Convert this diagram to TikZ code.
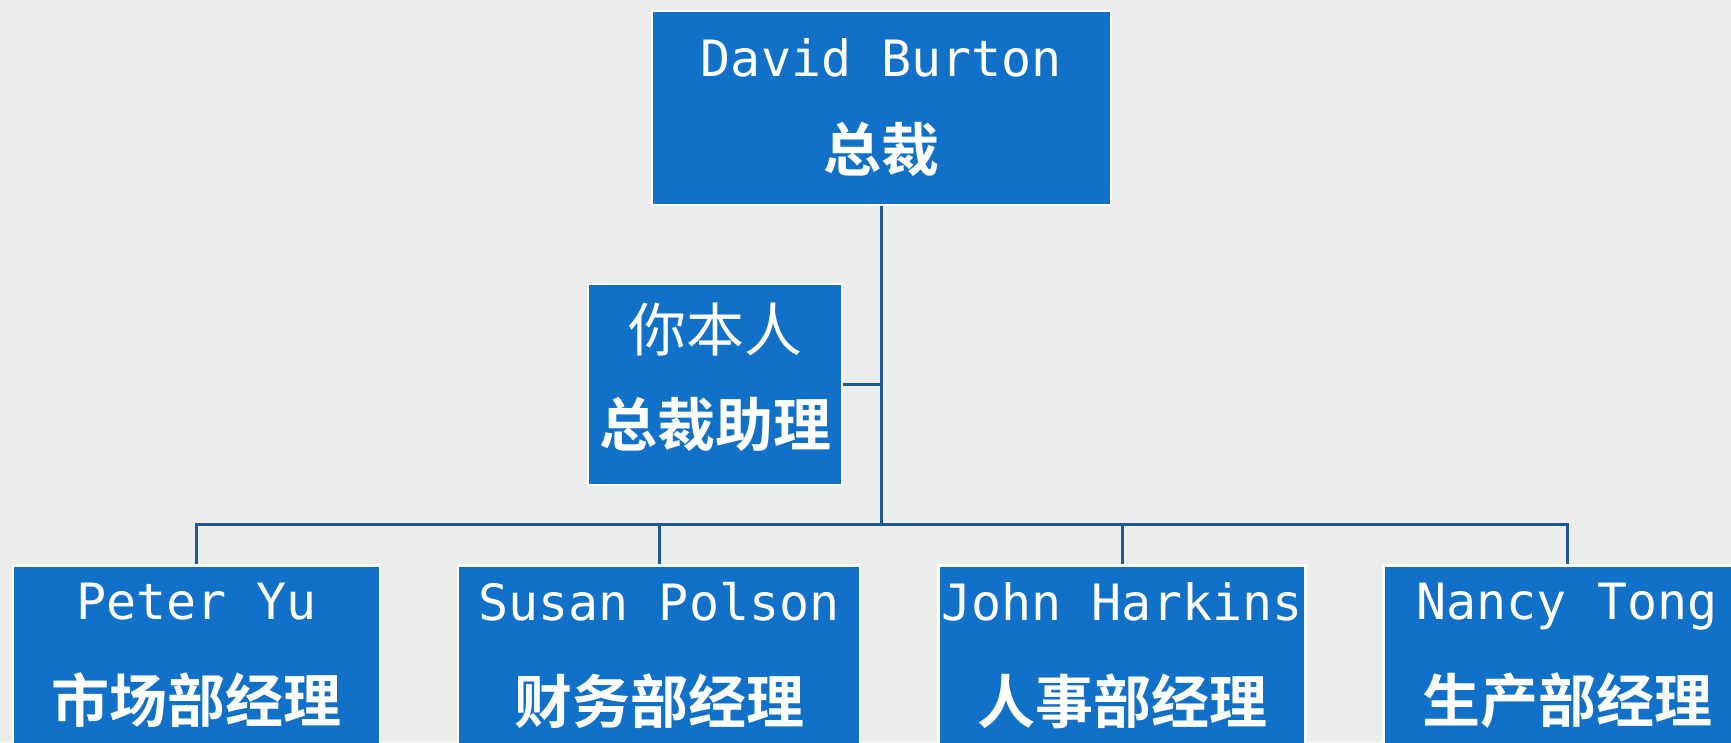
\documentclass[tikz,border=0pt]{standalone}
\usepackage{fontspec}
\usepackage{tikz}
\usetikzlibrary{positioning}
\usetikzlibrary{calc}
\newfontfamily\cjk[BoldFont={Noto Sans CJK SC Bold}]{Noto Sans CJK SC}
\newfontfamily\latn{DejaVu Sans Mono}
\definecolor{boxblue}{RGB}{17,112,199}
\definecolor{linkblue}{RGB}{31,88,150}
\definecolor{paper}{RGB}{236,236,236}
\newcommand{\nom}[1]{{\latn #1}}
\newcommand{\moi}[1]{{\cjk\fontsize{58}{95}\selectfont #1}}
\newcommand{\poste}[1]{{\cjk\bfseries\fontsize{58}{95}\selectfont #1}}
\tikzset{
  orgnode/.style = {rectangle, align=center, inner sep=0pt, fill=boxblue,
    draw=white, line width=2.5pt, text=white,
    font=\fontsize{50}{95}\selectfont},% case de base
  org_top/.style = {orgnode, minimum width=459pt, minimum height=194pt},% le patron
  org_asst/.style = {orgnode, minimum width=254pt, minimum height=201pt,
    text depth=20pt},% l'assistant
  org_dept/.style = {orgnode, anchor=north, minimum width=367pt,
    minimum height=200pt, font=\fontsize{50}{103}\selectfont,
    text depth=24pt},% chefs de service
  link/.style = {draw=linkblue, line width=3pt}
}

\begin{document}
\begin{tikzpicture}[x=1pt,y=-1pt]
\fill[paper] (0,0) rectangle (1731,742);
\useasboundingbox (0,0) rectangle (1731,742);
\node [org_top] (burton) at (881.5,108) {\nom{David Burton}\\\poste{总裁}};
\node [org_asst] (assist) at (715,384.5) {\moi{你本人}\\\poste{总裁助理}};
\coordinate (bus) at (881.5,524);
\node [org_dept] (yu) at (196.5,564) {\nom{Peter Yu}\\\poste{市场部经理}};
\node [org_dept, minimum width=402pt] (polson) at (659,564) {\nom{Susan Polson}\\\poste{财务部经理}};
\node [org_dept] (harkins) at (1122,564) {\nom{John Harkins}\\\poste{人事部经理}};
\node [org_dept] (tong) at (1567,564) {\nom{Nancy Tong}\\\poste{生产部经理}};
\draw [link] (burton.south) -- (bus);
\draw [link] (assist.east) -- (assist.east -| bus);
\foreach \n in {yu,polson,harkins,tong}
  \draw [link] (bus) -| (\n.north);
\end{tikzpicture}
\end{document}
